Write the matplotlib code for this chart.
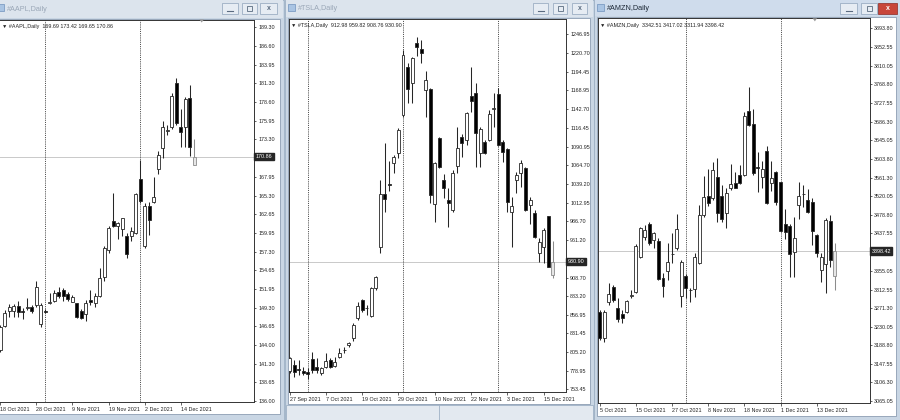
import numpy as np
import matplotlib.pyplot as plt
from matplotlib.patches import Rectangle, Polygon
from matplotlib.transforms import blended_transform_factory

plt.rcParams['font.family'] = ['Liberation Sans', 'DejaVu Sans']

# ---------------- data ----------------
# AAPL daily, 18 Oct 2021 .. 17 Dec 2021
aapl_o = [143.27, 146.70, 148.88, 148.90, 149.60, 148.88, 149.30, 149.36, 149.69, 146.94,
          148.80, 150.00, 150.31, 151.59, 151.83, 151.26, 150.17, 149.93, 148.88, 148.41,
          150.41, 149.93, 151.02, 153.73, 157.54, 161.72, 160.96, 160.49, 159.53, 159.53,
          159.91, 167.66, 158.11, 163.81, 164.34, 169.04, 172.04, 174.50, 175.13, 181.41,
          175.03, 175.13, 179.17, 169.69]
aapl_h = [146.84, 148.98, 149.79, 149.80, 150.26, 149.22, 150.64, 149.69, 153.16, 149.93,
          149.07, 151.45, 151.83, 152.31, 152.07, 151.59, 151.12, 150.03, 149.07, 150.41,
          151.83, 151.45, 154.92, 158.11, 160.96, 165.62, 161.58, 162.15, 159.91, 160.77,
          165.62, 170.37, 164.29, 164.43, 167.90, 171.66, 175.98, 175.37, 179.88, 182.02,
          177.60, 179.31, 181.07, 173.42]
aapl_l = [143.03, 146.51, 148.03, 147.93, 147.93, 147.65, 148.98, 148.60, 149.36, 146.51,
          148.50, 149.84, 150.07, 150.64, 150.26, 150.26, 150.07, 147.79, 147.65, 147.46,
          149.69, 149.36, 150.88, 153.16, 157.16, 160.77, 159.06, 159.58, 156.35, 158.87,
          159.82, 164.19, 157.78, 159.68, 164.19, 168.38, 170.61, 173.94, 174.75, 175.37,
          172.18, 172.28, 170.95, 169.65]
aapl_c = [146.60, 148.60, 149.46, 149.50, 148.65, 148.65, 149.36, 148.88, 152.31, 149.65,
          148.70, 150.07, 151.45, 150.98, 151.02, 150.55, 150.79, 147.93, 147.79, 149.93,
          150.07, 150.98, 153.50, 157.78, 160.63, 161.01, 161.44, 162.05, 156.92, 160.25,
          165.48, 164.57, 163.81, 161.82, 165.14, 171.09, 175.13, 174.60, 179.50, 175.70,
          174.32, 179.03, 172.28, 170.86]
aapl_ticks = [189.30, 186.60, 183.95, 181.30, 178.60, 175.95, 173.30, 167.95, 165.30, 162.65,
              159.95, 157.30, 154.65, 151.95, 149.30, 146.65, 144.00, 141.30, 138.65, 136.00]
aapl_dates = ["18 Oct 2021", "28 Oct 2021", "9 Nov 2021", "19 Nov 2021", "2 Dec 2021", "14 Dec 2021"]
aapl_date_idx = [0, 8, 16, 24, 32, 40]
aapl_sep = [10, 31]

# TSLA daily, 27 Sep 2021 .. 17 Dec 2021
tsla_o = [779.35, 787.2, 781.0, 779.4, 777.9, 795.1, 784.0, 775.6, 784.0, 794.2,
          785.8, 798.8, 807.5, 815.0, 824.3, 852.1, 877.6, 866.5, 855.8, 893.8,
          950.8, 1024.5, 1038.4, 1068.5, 1082.4, 1134.8, 1201.1, 1178.8, 1234.4, 1226.1,
          1169.5, 1170.4, 1011.1, 1102.3, 1044.4, 1016.6, 1002.7, 1063.9, 1103.7, 1100.0,
          1161.2, 1164.9, 1081.5, 1097.7, 1100.0, 1143.5, 1164.0, 1097.7, 1087.0, 1000.4,
          1044.4, 1053.7, 1060.6, 1009.7, 999.0, 942.5, 950.8, 994.4, 912.98]
tsla_h = [798.8, 794.2, 794.2, 784.9, 782.6, 805.8, 796.5, 784.9, 804.4, 796.5,
          798.8, 810.4, 812.7, 819.7, 845.1, 875.3, 878.5, 870.6, 896.1, 911.0,
          1044.4, 1095.4, 1071.3, 1079.2, 1116.2, 1225.1, 1206.6, 1215.9, 1242.8, 1239.0,
          1196.4, 1171.8, 1069.9, 1103.7, 1052.8, 1032.8, 1058.3, 1118.6, 1108.4, 1139.4,
          1201.1, 1179.7, 1118.6, 1100.0, 1141.8, 1164.9, 1171.8, 1100.0, 1088.4, 1021.2,
          1056.0, 1072.2, 1062.0, 1021.2, 1002.7, 963.3, 977.2, 994.4, 959.82]
tsla_l = [775.6, 771.0, 773.3, 773.3, 767.3, 775.6, 775.6, 773.3, 782.6, 782.6,
          784.0, 796.5, 804.4, 812.7, 821.1, 849.8, 861.4, 856.7, 854.4, 891.5,
          943.4, 1000.4, 1029.6, 1053.7, 1074.5, 1131.5, 1151.9, 1151.9, 1216.8, 1207.5,
          1132.4, 1012.0, 986.5, 1060.6, 1018.9, 978.6, 1000.4, 1054.6, 1075.9, 1093.1,
          1139.4, 1063.0, 1062.0, 1080.6, 1099.1, 1118.6, 1091.7, 1069.9, 1000.4, 950.8,
          1025.9, 1035.1, 1001.8, 983.3, 963.3, 930.9, 928.6, 923.0, 908.76]
tsla_c = [796.5, 777.9, 780.3, 775.6, 774.7, 780.3, 780.3, 782.6, 793.3, 784.9,
          791.9, 804.4, 808.1, 817.4, 842.8, 869.3, 863.7, 866.0, 893.8, 909.1,
          1024.5, 1017.5, 1037.0, 1075.9, 1113.9, 1218.2, 1170.4, 1213.6, 1228.9, 1220.5,
          1183.4, 1023.6, 1067.6, 1062.0, 1032.8, 1012.9, 1054.6, 1088.4, 1095.4, 1137.1,
          1154.7, 1109.3, 1114.9, 1081.5, 1136.2, 1144.1, 1093.1, 1083.8, 1014.3, 1008.3,
          1051.4, 1067.6, 1002.7, 1016.6, 964.7, 958.7, 974.9, 923.9, 930.90]
tsla_ticks = [1246.95, 1220.70, 1194.45, 1168.95, 1142.70, 1116.45, 1090.95, 1064.70, 1039.20,
              1012.95, 986.70, 961.20, 908.70, 883.20, 856.95, 831.45, 805.20, 778.95, 753.45]
tsla_dates = ["27 Sep 2021", "7 Oct 2021", "19 Oct 2021", "29 Oct 2021", "10 Nov 2021",
              "22 Nov 2021", "3 Dec 2021", "15 Dec 2021"]
tsla_date_idx = [0, 8, 16, 24, 32, 40, 48, 56]
tsla_sep = [4, 25, 46]

# AMZN daily, 5 Oct 2021 .. 17 Dec 2021
amzn_o = [3262.2, 3204.4, 3284.5, 3317.8, 3271.1, 3257.8, 3262.2, 3298.0, 3308.2, 3386.0,
          3430.5, 3457.9, 3423.1, 3420.8, 3337.8, 3354.1, 3392.0, 3404.5, 3299.3, 3343.7,
          3311.0, 3314.1, 3371.2, 3478.7, 3521.6, 3517.2, 3563.9, 3521.6, 3482.4, 3537.9,
          3549.0, 3567.6, 3567.6, 3709.9, 3680.3, 3585.0, 3563.9, 3620.9, 3549.0, 3573.5,
          3551.3, 3457.9, 3454.9, 3395.6, 3500.9, 3525.0, 3512.0, 3506.8, 3434.2, 3356.4,
          3369.0, 3465.3, 3342.51]
amzn_h = [3267.4, 3267.4, 3326.7, 3323.0, 3293.3, 3267.4, 3289.6, 3311.9, 3413.4, 3452.7,
          3456.4, 3463.8, 3441.6, 3426.8, 3348.9, 3415.6, 3437.9, 3480.1, 3378.6, 3346.7,
          3315.6, 3393.4, 3500.9, 3566.1, 3580.9, 3595.8, 3606.1, 3545.4, 3539.4, 3591.3,
          3575.0, 3589.8, 3706.9, 3764.0, 3714.3, 3619.5, 3598.7, 3632.1, 3598.7, 3576.5,
          3552.7, 3492.0, 3457.9, 3474.9, 3551.3, 3545.4, 3536.4, 3517.2, 3435.6, 3393.4,
          3471.2, 3478.7, 3417.02]
amzn_l = [3200.7, 3197.0, 3278.5, 3285.9, 3241.4, 3237.7, 3260.0, 3294.8, 3304.5, 3383.8,
          3423.1, 3411.9, 3404.5, 3334.1, 3297.0, 3334.1, 3371.2, 3400.8, 3274.8, 3294.8,
          3284.5, 3297.0, 3369.0, 3474.9, 3499.4, 3512.0, 3463.8, 3463.8, 3449.0, 3534.2,
          3537.9, 3546.8, 3566.1, 3677.3, 3567.6, 3530.5, 3537.9, 3502.4, 3532.0, 3500.9,
          3441.6, 3425.3, 3341.5, 3341.5, 3469.7, 3497.2, 3482.4, 3411.9, 3386.0, 3330.4,
          3304.5, 3363.8, 3311.94]
amzn_c = [3204.4, 3263.7, 3302.2, 3289.6, 3247.4, 3248.9, 3287.4, 3300.8, 3410.5, 3449.0,
          3445.3, 3415.6, 3437.9, 3336.3, 3321.5, 3374.9, 3391.9, 3446.8, 3374.9, 3315.6,
          3311.9, 3386.0, 3478.7, 3519.4, 3504.6, 3578.7, 3482.4, 3469.7, 3526.8, 3546.8,
          3539.4, 3549.0, 3699.5, 3678.8, 3571.3, 3583.9, 3580.9, 3504.6, 3560.2, 3508.3,
          3443.0, 3441.6, 3391.2, 3428.2, 3521.6, 3524.6, 3484.6, 3443.0, 3393.4, 3386.0,
          3467.5, 3378.6, 3398.42]
amzn_ticks = [3893.80, 3852.55, 3810.05, 3768.80, 3727.55, 3686.30, 3645.05, 3603.80, 3561.30,
              3520.05, 3478.80, 3437.55, 3355.05, 3312.55, 3271.30, 3230.05, 3188.80, 3147.55,
              3106.30, 3065.05]
amzn_dates = ["5 Oct 2021", "15 Oct 2021", "27 Oct 2021", "8 Nov 2021", "18 Nov 2021",
              "1 Dec 2021", "13 Dec 2021"]
amzn_date_idx = [0, 8, 16, 24, 32, 40, 48]
amzn_sep = [19, 40]

# ---------------- figure ----------------
W, H = 900, 420
FRAME = '#c9d6e4'
fig = plt.figure(figsize=(9, 4.2), dpi=100, facecolor=FRAME)


def px_axes(x0, y0, x1, y1):
    return fig.add_axes([x0 / W, 1 - y1 / H, (x1 - x0) / W, (y1 - y0) / H])


bg = px_axes(0, 0, W, H)
bg.set_xlim(0, W)
bg.set_ylim(H, 0)
bg.axis('off')


def window(x0, x1, title_h, client, title, active=False, buttons=()):
    bg.add_patch(Rectangle((x0, 0), x1 - x0, H, fc=FRAME, ec='#9fb1c5', lw=0.6))
    bg.add_patch(Rectangle((x0 + 1, 0), x1 - x0 - 2, title_h,
                           fc='#cfdcec' if active else '#dce4ed', ec='none'))
    cx0, cy0, cx1, cy1 = client
    bg.add_patch(Rectangle((cx0, cy0), cx1 - cx0, cy1 - cy0, fc='white', ec='#8c9db2', lw=0.6))
    # window icon
    bg.add_patch(Rectangle((x0 + 3, 4), 7, 7, fc='#a9c4e3', ec='#6f92bd', lw=0.5))
    bg.text(x0 + 13, title_h / 2 + 0.5, title, fontsize=5.2, va='center', ha='left',
            color='#1c2836' if active else '#9aa7b7')
    for i, (bx0, bx1) in enumerate(buttons):
        is_close = active and i == len(buttons) - 1
        bg.add_patch(Rectangle((bx0, 3), bx1 - bx0, 11,
                               fc='#c8463a' if is_close else '#e6ecf3',
                               ec='#8b2a22' if is_close else '#8fa3ba', lw=0.5))
        mx = (bx0 + bx1) / 2
        if i == 0:
            bg.plot([mx - 3, mx + 3], [10.5, 10.5], color='#5a6b80', lw=0.8)
        elif i == 1:
            bg.add_patch(Rectangle((mx - 2.5, 6), 5, 5, fc='none', ec='#5a6b80', lw=0.6))
        else:
            bg.text(mx, 8.8, 'x', fontsize=5, ha='center', va='center',
                    color='white' if is_close else '#5a6b80', fontweight='bold')


window(-6, 284, 18, (-2, 19, 280, 414), '#AAPL,Daily',
       buttons=[(222, 238), (242, 257), (260, 277)])
window(285, 594, 17, (288, 18, 590, 404), '#TSLA,Daily',
       buttons=[(533, 548), (553, 567), (572, 587)])
# strip of the window lying below the TSLA window
bg.add_patch(Rectangle((286, 405), 307, 15, fc='#e3e9f0', ec='#9fb1c5', lw=0.6))
bg.plot([439, 439], [405, 420], color='#9fb1c5', lw=0.6)
window(594, 906, 16, (597, 17, 896, 416), '#AMZN,Daily', active=True,
       buttons=[(840, 857), (861, 877), (878, 897)])


def candles(box, xlim, ylim, name, o, h, l, c, ticks, sep, date_idx, dates, shift_x=None):
    ax = px_axes(*box)
    o, h, l, c = (np.asarray(v, dtype=float) for v in (o, h, l, c))
    x = np.arange(len(o))
    edge = ['#262626'] * (len(o) - 1) + ['#8c8c8c']
    face = np.where(c >= o, 'white', 'black').tolist()
    face[-1] = '#e6e6e6'
    ax.axhline(c[-1], color='#c9c9c9', lw=0.7, zorder=1)
    for s in sep:
        ax.axvline(s, color='#333333', lw=0.6, ls=(0, (1.3, 1.3)), zorder=1)
    ax.vlines(x, l, h, colors=edge, lw=0.75, zorder=3)
    ax.bar(x, np.abs(c - o), bottom=np.minimum(o, c), width=0.66, color=face,
           edgecolor=edge, lw=0.6, zorder=4)
    ax.set_xlim(*xlim)
    ax.set_ylim(*ylim)

    ax.yaxis.tick_right()
    ax.set_yticks(ticks)
    ax.set_yticklabels([f'{t:.2f}' for t in ticks])
    ax.tick_params(axis='y', direction='out', length=1.6, width=0.5, pad=1.4,
                   labelsize=3.9, colors='#222222')
    ax.set_xticks(date_idx)
    ax.set_xticklabels(dates, ha='left')
    ax.tick_params(axis='x', direction='out', length=2.5, width=0.5, pad=1.2,
                   labelsize=3.9, colors='#222222')
    for sp in ax.spines.values():
        sp.set_linewidth(0.7)
        sp.set_color('#333333')

    tr = blended_transform_factory(ax.transAxes, ax.transData)
    ax.text(1.006, c[-1], f'{c[-1]:.2f}', transform=tr, fontsize=3.9, color='white',
            va='center', ha='left', zorder=6, clip_on=False,
            bbox=dict(boxstyle='square,pad=0.25', fc='#262626', ec='#262626'))
    ax.text(0.008, 0.988, f'\u25bc {name},Daily  {o[-1]:.2f} {h[-1]:.2f} {l[-1]:.2f} {c[-1]:.2f}',
            transform=ax.transAxes, fontsize=3.9, va='top', ha='left', color='#222222')
    if shift_x is not None:
        ax.add_patch(Polygon([[shift_x - 0.5, 1.0], [shift_x + 0.5, 1.0], [shift_x, 0.992]],
                             closed=True, fc='#9a9a9a', ec='none',
                             transform=blended_transform_factory(ax.transData, ax.transAxes),
                             clip_on=False, zorder=6))
    return ax


a1 = candles((0, 19.5, 254, 402), (-0.02, 56.17), (135.86, 190.41), '#AAPL',
             aapl_o, aapl_h, aapl_l, aapl_c, aapl_ticks, aapl_sep, aapl_date_idx, aapl_dates,
             shift_x=44.6)
a1.spines['left'].set_visible(False)
candles((288.5, 19, 566, 391.7), (-0.24, 60.93), (750.1, 1268.2), '#TSLA',
        tsla_o, tsla_h, tsla_l, tsla_c, tsla_ticks, tsla_sep, tsla_date_idx, tsla_dates)
candles((598, 18.3, 870, 402.5), (-0.38, 59.8), (3061.7, 3916.0), '#AMZN',
        amzn_o, amzn_h, amzn_l, amzn_c, amzn_ticks, amzn_sep, amzn_date_idx, amzn_dates,
        shift_x=47.6)

fig.savefig('out.png', dpi=100, facecolor=FRAME)
